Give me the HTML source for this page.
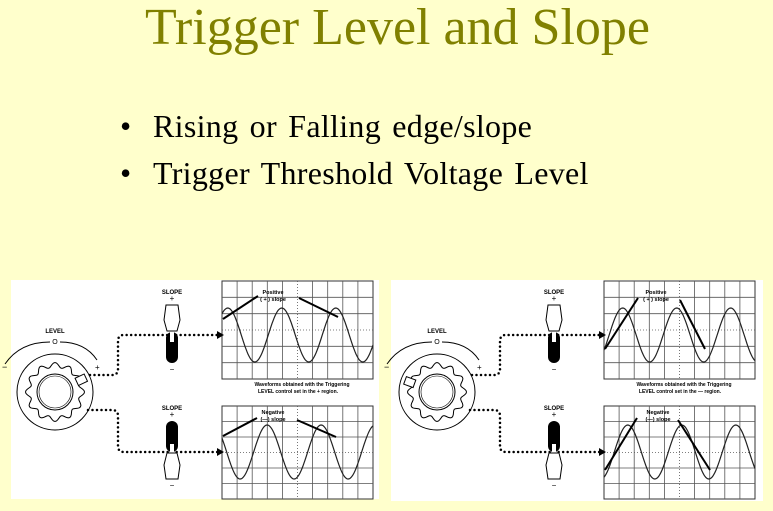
<!DOCTYPE html>
<html><head><meta charset="utf-8"><style>
html,body{margin:0;padding:0;}
body{width:773px;height:511px;background:#FFFFCC;position:relative;overflow:hidden;font-family:"Liberation Serif",serif;}
.t{position:absolute;left:0;width:795px;top:-2px;text-align:center;font-size:52px;color:#808000;}
.b{position:absolute;left:120px;font-size:32px;color:#000;}
.b span{position:absolute;left:33px;white-space:nowrap;letter-spacing:0.3px;word-spacing:3px;}
svg{position:absolute;left:0;top:0;}
</style></head><body>
<div class="t">Trigger Level and Slope</div>
<div class="b" style="top:108px">•<span>Rising or Falling edge/slope</span></div>
<div class="b" style="top:155px">•<span>Trigger Threshold Voltage Level</span></div>
<svg id="s" width="773" height="511" font-family="Liberation Sans, sans-serif"></svg>
<script>
var s=document.getElementById('s'),h='';
h+='<rect x="11" y="280" width="368" height="219" fill="#fff"/><rect x="391" y="280" width="372" height="221" fill="#fff"/>';
function grid(x,y,w,hh,rows){var o='<rect x="'+x+'" y="'+y+'" width="'+w+'" height="'+hh+'" fill="none" stroke="#333" stroke-width="1"/>';
for(var i=1;i<10;i++){var xx=x+i*w/10;o+='<line x1="'+xx+'" y1="'+y+'" x2="'+xx+'" y2="'+(y+hh)+'" stroke="#555" stroke-width="0.8" '+(i==5?'stroke-dasharray="1,2"':'')+'/>';}
for(var j=1;j<rows;j++){var yy=y+j*hh/rows;o+='<line x1="'+x+'" y1="'+yy+'" x2="'+(x+w)+'" y2="'+yy+'" stroke="#555" stroke-width="0.8" '+(j==Math.floor(rows/2)?'stroke-dasharray="1,2"':'')+'/>';}
return o;}
function sine(x0,x1,cy,a,per,ph){var d='M';for(var x=x0;x<=x1;x+=1){d+=x+','+(cy-a*Math.sin((x-x0)/per*2*Math.PI+ph)).toFixed(1)+' ';}return '<path d="'+d+'" fill="none" stroke="#222" stroke-width="1.2"/>';}
function arrow(x1,y1,x2,y2){return '<line x1="'+x1+'" y1="'+y1+'" x2="'+x2+'" y2="'+y2+'" stroke="#000" stroke-width="2"/>';}
function sw(x,y,up){var o='';
o+='<text x="'+x+'" y="'+(y-8)+'" font-size="6" font-weight="bold" text-anchor="middle">SLOPE</text><text x="'+x+'" y="'+(y-1)+'" font-size="8" text-anchor="middle">+</text><text x="'+x+'" y="'+(y+70)+'" font-size="8" text-anchor="middle">−</text>';
if(up){o+='<path d="M'+(x-6)+','+(y+3)+' L'+(x+6)+','+(y+3)+' L'+(x+8)+','+(y+18)+' L'+(x+5)+','+(y+29)+' L'+(x-5)+','+(y+29)+' L'+(x-8)+','+(y+18)+'Z" fill="#fff" stroke="#000"/><rect x="'+(x-6)+'" y="'+(y+30)+'" width="12" height="31" rx="6" fill="#000"/><rect x="'+(x-2)+'" y="'+(y+30)+'" width="4" height="10" fill="#fff"/>';}
else{o+='<rect x="'+(x-6)+'" y="'+(y+3)+'" width="12" height="31" rx="6" fill="#000"/><rect x="'+(x-2)+'" y="'+(y+26)+'" width="4" height="9" fill="#fff"/><path d="M'+(x-5)+','+(y+35)+' L'+(x+5)+','+(y+35)+' L'+(x+8)+','+(y+47)+' L'+(x+6)+','+(y+61)+' L'+(x-6)+','+(y+61)+' L'+(x-8)+','+(y+47)+'Z" fill="#fff" stroke="#000"/>';}
return o;}
function knob(cx,cy,tab){var o='<text x="'+cx+'" y="'+(cy-59)+'" font-size="6" font-weight="bold" text-anchor="middle">LEVEL</text><text x="'+cx+'" y="'+(cy-48)+'" font-size="7" text-anchor="middle">O</text>';
o+='<path d="M'+(cx-50)+','+(cy-28)+' Q'+(cx-35)+','+(cy-50)+' '+(cx-5)+','+(cy-50)+'" fill="none" stroke="#000"/><path d="M'+(cx+5)+','+(cy-50)+' Q'+(cx+30)+','+(cy-50)+' '+(cx+42)+','+(cy-32)+'" fill="none" stroke="#000"/>';
o+='<text x="'+(cx-53)+'" y="'+(cy-22)+'" font-size="9">−</text><text x="'+(cx+40)+'" y="'+(cy-22)+'" font-size="8">+</text>';
o+='<circle cx="'+cx+'" cy="'+cy+'" r="38" fill="#fff" stroke="#000"/>';
var d='M';for(var i=0;i<=360;i+=3){var r=27+2.5*Math.cos(i*Math.PI/180*12);d+=(cx+r*Math.cos(i*Math.PI/180)).toFixed(1)+','+(cy+r*Math.sin(i*Math.PI/180)).toFixed(1)+' ';}
o+='<path d="'+d+'Z" fill="#fff" stroke="#000"/><circle cx="'+cx+'" cy="'+cy+'" r="18" fill="#fff" stroke="#000"/><circle cx="'+cx+'" cy="'+cy+'" r="16" fill="none" stroke="#000" stroke-width="0.6"/>';
o+='<g transform="rotate('+tab+' '+cx+' '+cy+')"><rect x="'+(cx+24)+'" y="'+(cy-4)+'" width="10" height="8" fill="#fff" stroke="#000"/></g>';
return o;}
function dots(d){return '<path d="'+d+'" fill="none" stroke="#000" stroke-width="2.5" stroke-linecap="round" stroke-dasharray="0,4.5"/>';}
function panel(dx,k,tab,w1,w2,a1,a2){var o='<g transform="translate('+dx+',0)">';
o+=grid(222,281,151,98,6)+grid(222,406,151,93,6);
o+=sine(222,373,335,27,54,w1)+sine(222,373,452,27,54,w2);
o+=knob(k,392,tab);
o+=dots('M90,375 L112,375 Q118,375 118,369 L118,341 Q118,335 124,335 L218,335')+dots('M88,410 L112,410 Q118,410 118,416 L118,446 Q118,452 124,452 L218,452');
o+='<path d="M217,331 L224,335 L217,339Z"/><path d="M217,448 L224,452 L217,456Z"/>';
o+=sw(172,302,true)+sw(172,418,false);
o+='<text x="302" y="386" font-size="5" font-weight="bold" text-anchor="middle">Waveforms obtained with the Triggering</text><text x="298" y="393" font-size="5" font-weight="bold" text-anchor="middle">LEVEL control set in the '+(dx?'—':'+')+' region.</text>';
o+='<text x="'+(dx?274:273)+'" y="294" font-size="5.5" font-weight="bold" text-anchor="middle">Positive</text><text x="'+(dx?274:273)+'" y="301" font-size="5.5" font-weight="bold" text-anchor="middle">( + )  slope</text>';
o+='<text x="'+(dx?276:273)+'" y="414" font-size="5.5" font-weight="bold" text-anchor="middle">Negative</text><text x="'+(dx?276:273)+'" y="421" font-size="5.5" font-weight="bold" text-anchor="middle">(—)  slope</text>';
o+=a1+a2+'</g>';return o;}
h+=panel(0,55,-25,0.9,2.6,arrow(258,296,223,319)+arrow(299,298,338,317),arrow(257,418,223,436)+arrow(297,420,336,437));
h+=panel(382,55,200,-0.6,-1.2,arrow(256,298,223,349)+arrow(298,300,323,349),arrow(255,418,223,470)+arrow(296,420,328,470));
s.innerHTML=h;
</script>
</body></html>
